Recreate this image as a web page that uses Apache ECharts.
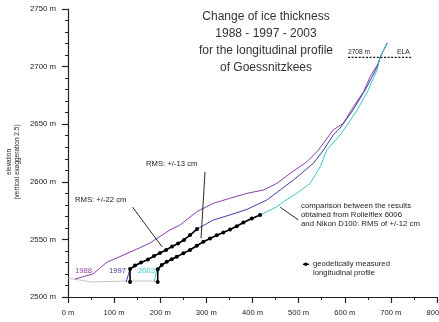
<!DOCTYPE html>
<html>
<head>
<meta charset="utf-8">
<script src="https://cdn.jsdelivr.net/npm/echarts@6/dist/echarts.min.js"></script>
<style>
html,body{margin:0;padding:0;background:#fff;}
#c{width:439px;height:322px;}
</style>
</head>
<body>
<div id="c"></div>
<script>
// ---- data (distance m, elevation m) ----
const titleLines = ['Change of ice thickness', '1988 - 1997 - 2003', 'for the longitudinal profile', 'of Goessnitzkees'];
const xTicks = [0, 100, 200, 300, 400, 500, 600, 700, 800];
const yTicks = [2500, 2550, 2600, 2650, 2700, 2750];

const ground = [[0,2516.5],[15,2515.4],[52,2513],[124,2513.9],[184,2513.9],[194.5,2513]];

const profile1988 = [[15,2515.6],[54,2520],[85,2530.4],[106,2533.9],[145,2540.8],[178,2546.9],[221,2558.2],[243,2562.5],[279,2574],[315,2581.3],[351,2585.7],[388,2590],[424,2592.9],[453,2598.7],[482,2607.4],[518,2617.4],[543,2627.6],[575,2645],[597,2650.8],[619,2665.2],[641,2678.2],[655,2691.2],[673,2702.9],[677,2708.3],[692,2720.5]];

const profile1997 = [[126,2513],[134.5,2524.3],[160,2529.9],[199.5,2538.2],[238.6,2546.4],[264.6,2553.8],[279.8,2559],[315,2566.8],[351,2571.2],[388,2576.1],[431,2584.2],[460,2592.9],[489,2601.6],[532,2616.1],[554,2627.6],[575,2640.6],[590,2646.7],[618,2662.3],[648,2682.3],[670,2699.6],[677,2708.3],[692,2720.5]];

const profile2003 = [[187,2513.3],[192.4,2523.4],[203,2527.8],[250,2537.9],[308,2550.8],[365.9,2561.4],[416.4,2571.2],[453,2578.4],[467,2582.7],[496,2590],[525,2598.7],[547,2613.1],[561,2627.6],[590,2640.6],[605,2649.3],[627,2662.3],[651,2679.7],[670,2697],[677,2708.3],[692,2720.5]];

const measured1997 = [[134.5,2513],[134.5,2524.3],[145.3,2527.3],[158.3,2529.9],[173.5,2532.6],[186.5,2535.6],[199.5,2538.2],[212.6,2540.8],[225.6,2543.8],[238.6,2546.4],[251.6,2549.5],[264.6,2553.8],[279.8,2559]];

const measured2003 = [[194.5,2513],[194.5,2524],[203.2,2527.8],[214.1,2530.6],[224.9,2532.7],[235.8,2535],[250.1,2537.9],[264.6,2540.8],[279.2,2544.5],[293.5,2548],[308,2550.8],[322.5,2553.6],[336.8,2556],[351.4,2558.6],[365.9,2561.4],[380.2,2564.7],[398.4,2568.1],[416.4,2571.2]];

const elaElevation = 2708;
const elaExtent = [607, 746];

const pointerRms22 = [[140,2578],[204,2543.5]];
const pointerRms13 = [[297,2608.5],[288.5,2551]];
const pointerComparison = [[460,2578],[499,2567]];

// ---- chart ----
const FONT = 'Liberation Sans, Arial, sans-serif';
const chart = echarts.init(document.getElementById('c'), null, {renderer: 'canvas'});

function plain(data, color, width) {
  return {type: 'line', data: data, symbol: 'none', silent: true,
    lineStyle: {color: color, width: width}, z: 2};
}
const meters = v => v + ' m';

const option = {
  animation: false,
  backgroundColor: '#fff',
  grid: {left: 68, right: 2, top: 9, bottom: 25, containLabel: false, outerBoundsMode: 'none'},
  xAxis: {
    type: 'value', min: xTicks[0], max: xTicks[xTicks.length - 1], interval: 100,
    axisLine: {lineStyle: {color: '#222', width: 1.2}},
    axisTick: {length: 6, lineStyle: {color: '#222', width: 1.2}},
    minorTick: {show: true, splitNumber: 2, length: 3, lineStyle: {color: '#222', width: 1}},
    splitLine: {show: false},
    axisLabel: {formatter: meters, fontFamily: FONT, fontSize: 7.6, color: '#222', margin: 12, hideOverlap: false},
    name: 'distance from reference point M1', nameLocation: 'middle', nameGap: 29,
    nameTextStyle: {fontFamily: FONT, fontSize: 7.6, color: '#222'}
  },
  yAxis: {
    type: 'value', min: yTicks[0], max: yTicks[yTicks.length - 1], interval: 50,
    axisLine: {show: true, lineStyle: {color: '#222', width: 1.2}},
    axisTick: {show: true, length: 6, lineStyle: {color: '#222', width: 1.2}},
    minorTick: {show: true, splitNumber: 5, length: 3, lineStyle: {color: '#222', width: 1}},
    splitLine: {show: false},
    axisLabel: {formatter: meters, fontFamily: FONT, fontSize: 7.8, color: '#222', margin: 12}
  },
  series: [
    plain(ground, '#c4c4c4', 1),
    plain(profile1988, '#8c3fa6', 1),
    plain(profile1997, '#3f3fa3', 1),
    plain(profile2003, '#3cc7c9', 1),
    {type: 'line', data: measured1997, symbol: 'circle', symbolSize: 4, silent: true,
      itemStyle: {color: '#000'}, lineStyle: {color: '#000', width: 1.6}, z: 5},
    {type: 'line', data: measured2003, symbol: 'circle', symbolSize: 4, silent: true,
      itemStyle: {color: '#000'}, lineStyle: {color: '#000', width: 1.6}, z: 5},
    {type: 'line', data: elaExtent.map(x => [x, elaElevation]), symbol: 'none', silent: true,
      lineStyle: {color: '#111', width: 1.2, type: [2, 1.6]}, z: 4},
    plain(pointerRms22, '#111', 0.9),
    plain(pointerRms13, '#111', 0.9),
    plain(pointerComparison, '#111', 0.9)
  ]
};
chart.setOption(option);

const txt = (x, y, text, size, color) => ({
  type: 'text', x: x, y: y, silent: true,
  style: {text: text, fontFamily: FONT, fontSize: size, fill: color || '#222',
    align: 'left', verticalAlign: 'middle'}
});

const graphics = [
  {type: 'text', x: 266, y: 8, silent: true,
    style: {text: titleLines.join('\n'), fontFamily: FONT, fontSize: 12, lineHeight: 17,
      fill: '#333', align: 'center', verticalAlign: 'top'}},
  {type: 'text', x: 9, y: 162, rotation: Math.PI / 2, silent: true,
    style: {text: 'elevation', fontFamily: FONT, fontSize: 6.5, fill: '#222', align: 'center', verticalAlign: 'middle'}},
  {type: 'text', x: 17, y: 162, rotation: Math.PI / 2, silent: true,
    style: {text: '(vertical exaggeration 2.5)', fontFamily: FONT, fontSize: 6.5, fill: '#222', align: 'center', verticalAlign: 'middle'}},
  txt(75, 271, '1988', 7.7, '#8c3fa6'),
  txt(109, 271, '1997', 7.7, '#3f3fa3'),
  txt(138, 271, '2003', 7.7, '#3cc7c9'),
  txt(75, 200, 'RMS: +/-22 cm', 7.7),
  txt(146, 164, 'RMS: +/-13 cm', 7.7),
  {type: 'text', x: 301, y: 202, silent: true,
    style: {text: 'comparison between the results\nobtained from Rolleiflex 6006\nand Nikon D100: RMS of +/-12 cm',
      fontFamily: FONT, fontSize: 7.8, lineHeight: 8.7, fill: '#222', align: 'left', verticalAlign: 'top'}},
  {type: 'line', silent: true, shape: {x1: 303, y1: 264.3, x2: 309, y2: 264.3}, style: {stroke: '#000', lineWidth: 1.4}},
  {type: 'circle', silent: true, shape: {cx: 305.8, cy: 264.3, r: 1.8}, style: {fill: '#000'}},
  txt(313, 264.3, 'geodetically measured', 7.7),
  txt(313, 272.5, 'longitudinal profile', 7.7),
  txt(348, 52.3, '2708 m', 6.6),
  txt(397, 52.3, 'ELA', 6.8)
];
chart.setOption({graphic: graphics});
</script>
</body>
</html>
